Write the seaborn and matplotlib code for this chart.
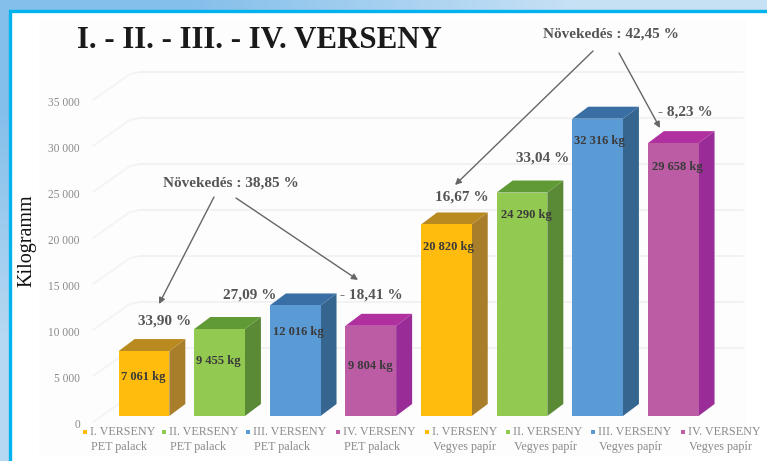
import numpy as np
import pandas as pd
import matplotlib
matplotlib.use('Agg')
import matplotlib.pyplot as plt
from matplotlib.patches import Polygon, Rectangle
from matplotlib.transforms import Affine2D
import seaborn as sns

# adatok
versenyek = ['I. VERSENY', 'II. VERSENY', 'III. VERSENY', 'IV. VERSENY'] * 2
anyagok = ['PET palack'] * 4 + ['Vegyes papír'] * 4
kg = [7061, 9455, 12016, 9804, 20820, 24290, 32316, 29658]
kg_cimkek = ['7 061 kg', '9 455 kg', '12 016 kg', '9 804 kg',
             '20 820 kg', '24 290 kg', '32 316 kg', '29 658 kg']
y_ticks = [0, 5000, 10000, 15000, 20000, 25000, 30000, 35000]
y_tick_cimkek = ['0', '5 000', '10 000', '15 000', '20 000', '25 000', '30 000', '35 000']
szazalekok = ['33,90 %', '27,09 %', '- 18,41 %', '16,67 %', '33,04 %', '- 8,23 %']
novekedes = ['Növekedés : 38,85 %', 'Növekedés : 42,45 %']

# szinek: elol, oldal, teteje
elol = ['#FFBC0D', '#92C950', '#5B9BD5', '#BC5CA5'] * 2
oldal = ['#A87E2A', '#5B8A37', '#36658F', '#992C96'] * 2
teteje = ['#B98A20', '#5F9A35', '#3A6FA5', '#B030A0'] * 2

W, H = 767, 461
PX_KG = 0.0092   # pixel / kg
KAT = 75.6       # pixel / kategoria
X0, Y0 = 144, 416

sns.set_theme(style='white')
plt.rcParams['font.family'] = ['Liberation Serif', 'DejaVu Serif']

fig = plt.figure(figsize=(W / 100, H / 100), dpi=100)

# hatter szinatmenet + keret (csak bal es felso szel)
bg = fig.add_axes([0, 0, 1, 1], zorder=0)
bg.imshow([[[0.52, 0.75, 0.92], [0.78, 0.88, 0.96]],
           [[0.72, 0.85, 0.95], [0.85, 0.92, 0.97]]],
          extent=[0, W, H, 0], aspect='auto', interpolation='bilinear')
bg.add_patch(Rectangle((10, 11), W, H, fc='white', ec='none'))
bg.add_patch(Rectangle((39, 20), 708, 436, fc='#FDFDFD', ec='none'))
bg.plot([10, 10, W], [H, 11, 11], color='#00B2EE', lw=2.4, solid_joinstyle='miter')
bg.set_xlim(0, W)
bg.set_ylim(H, 0)
bg.axis('off')

ax = fig.add_axes([0, 0, 1, 1], zorder=1)
ax.patch.set_alpha(0)
df = pd.DataFrame({'kat': range(8), 'kg': kg})
sns.barplot(data=df, x='kat', y='kg', hue='kat', palette=elol, legend=False,
            width=0.67, saturation=1, linewidth=0, edgecolor='none', ax=ax, zorder=4)
ax.set_xlim(-X0 / KAT, (W - X0) / KAT)
ax.set_ylim((Y0 - H) / PX_KG, Y0 / PX_KG)
ax.axis('off')

# pixel koordinatak a feliratokhoz (bal felso sarok az origo)
px = Affine2D().scale(1, -1).translate(0, H)

# 3D oldallap es teto a sajat oszlopokbol szamolva
dx = 16 / KAT
dy = 12 / PX_KG
for i, bar in enumerate(list(ax.patches)):
    x1, x2 = bar.get_x(), bar.get_x() + bar.get_width()
    h = bar.get_height()
    ax.add_patch(Polygon([(x2, 0), (x2 + dx, dy), (x2 + dx, h + dy), (x2, h)],
                         fc=oldal[i], ec='none', zorder=3))
    ax.add_patch(Polygon([(x1, h), (x1 + dx, h + dy), (x2 + dx, h + dy), (x2, h)],
                         fc=teteje[i], ec='none', zorder=3))

# racs a hatso falon, atlos szakasz a tengely felirattol
for t, lab in zip(y_ticks, y_tick_cimkek):
    yb = 394 - t * PX_KG
    if t > 0:
        ax.plot([140, 743], [yb, yb], color='#F0F0F0', lw=1.2, transform=px, zorder=1)
    ax.plot([93, 130, 140], [yb + 28, yb + 2, yb], color='#F3F3F3', lw=1.2, transform=px, zorder=1)
    ax.text(80, 425 - t * PX_KG, lab, ha='right', va='center', fontsize=8.3,
            color='#8A8A8A', transform=px)

ax.text(259, 40, 'I. - II. - III. - IV. VERSENY', ha='center', va='center',
        fontsize=22.2, fontweight='bold', color='#1a1a1a', transform=px)
ax.text(27, 241, 'Kilogramm', rotation=90, ha='center', va='center',
        fontsize=14.5, color='#111111', transform=px)

# ertekek az oszlopokon
cimke_hely = [(143, 377), (218, 361), (298, 332), (370, 366),
              (448, 247), (526, 215), (599, 141), (677, 167)]
for (x, y), lab in zip(cimke_hely, kg_cimkek):
    ax.text(x, y, lab, ha='center', va='center', fontsize=9, fontweight='bold',
            color='#3A3A3A', transform=px, zorder=6)

# szazalekok
szaz_hely = [(165, 321), (250, 295), (371, 295), (462, 197), (543, 158), (685, 112)]
for (x, y), lab in zip(szaz_hely, szazalekok):
    ax.text(x, y, lab, ha='center', va='center', fontsize=11, fontweight='bold',
            color='#555555', transform=px, zorder=6)

ax.text(231, 183, novekedes[0], ha='center', va='center', fontsize=11, fontweight='bold',
        color='#555555', transform=px)
ax.text(611, 34, novekedes[1], ha='center', va='center', fontsize=11, fontweight='bold',
        color='#555555', transform=px)

# nyilak
nyilak = [((214, 197), (159, 304)), ((236, 198), (358, 280)),
          ((593, 51), (455, 185)), ((619, 53), (660, 128))]
for kezd, veg in nyilak:
    ax.annotate('', xy=veg, xytext=kezd, xycoords=px, textcoords=px, zorder=7,
                arrowprops=dict(arrowstyle='-|>', color='#666666', lw=1, mutation_scale=9,
                                shrinkA=0, shrinkB=0))

# jelmagyarazat az oszlopok alatt
jel_x = [85, 164, 248, 338, 427, 508, 593, 683]
for i in range(8):
    ax.add_patch(Rectangle((jel_x[i] - 2, 430), 4, 4, fc=elol[i], ec='none', transform=px))
    ax.text(jel_x[i] + 5, 432, versenyek[i], ha='left', va='center', fontsize=8.7,
            color='#8A8A8A', transform=px)
    ax.text(jel_x[i] + 6, 447, anyagok[i], ha='left', va='center', fontsize=8.7,
            color='#8A8A8A', transform=px)

fig.savefig('out.png', dpi=100)
